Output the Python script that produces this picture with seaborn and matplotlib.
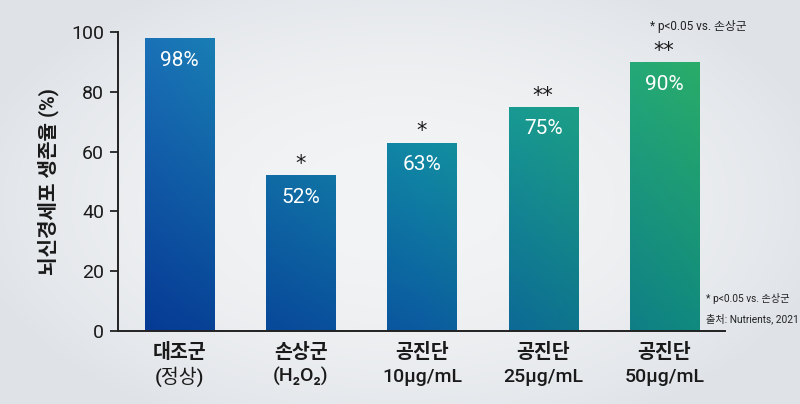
import numpy as np
import pandas as pd
import matplotlib
matplotlib.use("Agg")
import matplotlib.pyplot as plt
import seaborn as sns
from matplotlib.colors import to_rgb

group_names = ["대조군", "손상군", "공진단", "공진단", "공진단"]
group_details = ["(정상)", "(H₂O₂)", "10μg/mL", "25μg/mL", "50μg/mL"]
values = [98, 52, 63, 75, 90]
value_labels = ["98%", "52%", "63%", "75%", "90%"]
sig_marks = ["", "*", "*", "**", "**"]
yticks = [0, 20, 40, 60, 80, 100]
ylabel = "뇌신경세포 생존율 (%)"
note_sig = "* p<0.05 vs. 손상군"
note_src = "출처: Nutrients, 2021"

sns.set_theme(style="white")
plt.rcParams['font.family'] = ['Roboto', 'Noto Sans CJK KR', 'DejaVu Sans']

fig = plt.figure(figsize=(8, 4.04), dpi=100)
fig.patch.set_facecolor("#eceef1")

# soft vignette background
bg = fig.add_axes([0, 0, 1, 1], zorder=-10)
bx = np.linspace(-1, 1, 400)[None, :]
by = np.linspace(-1, 1, 202)[:, None]
r = np.clip(np.sqrt((bx * 0.9) ** 2 + (by * 0.8) ** 2), 0, 1.2)
c_in, c_out = np.array(to_rgb("#f3f4f5")), np.array(to_rgb("#dfe3e8"))
w = np.clip(r ** 2, 0, 1)[..., None]
bg.imshow((1 - w) * c_in + w * c_out, aspect="auto", extent=[0, 1, 0, 1],
          interpolation="bilinear")
bg.set_axis_off()

ax = fig.add_axes([0.1475, 0.1807, 0.906 - 0.1475, 0.921 - 0.1807])
ax.set_facecolor("none")

df = pd.DataFrame({"group": group_names, "detail": group_details, "value": values})
df["key"] = df["group"] + "\n" + df["detail"]
sns.barplot(data=df, x="key", y="value", ax=ax, width=0.57, color="#1565b0",
            saturation=1, linewidth=0, zorder=2)

# 2D gradient: control colours at left / middle / right columns, bottom & top
xs = np.array([0.0, 0.5, 1.0])
bottoms = np.array([to_rgb(c) for c in ["#063a94", "#0b5aa0", "#108a7e"]])
tops = np.array([to_rgb(c) for c in ["#1b72b8", "#14a8a6", "#2db066"]])
nx, ny = 200, 200
u = np.linspace(0, 1, nx)
v = np.linspace(1, 0, ny)[:, None, None]
bot_row = np.stack([np.interp(u, xs, bottoms[:, k]) for k in range(3)], axis=-1)[None]
top_row = np.stack([np.interp(u, xs, tops[:, k]) for k in range(3)], axis=-1)[None]
grad = np.clip((1 - v) * bot_row + v * top_row, 0, 1)

for p in ax.patches:
    im = ax.imshow(grad, extent=[-0.3, 4.3, 0, 100], aspect="auto", zorder=2,
                   interpolation="bilinear")
    im.set_clip_path(p)
    p.set_facecolor("none")

ax.set_xlim(-0.51, 4.5)
ax.set_ylim(0, 100)
ax.set_yticks(yticks)
ax.tick_params(axis="y", labelsize=14, length=6, width=1.3, color="#222222",
               direction="out", left=True, pad=4, labelcolor="#1a1a1a")
ax.set_xticks(range(len(group_names)))
ax.set_xticklabels(group_names)
ax.tick_params(axis="x", labelsize=14, length=0, pad=9, labelcolor="#1a1a1a")
for lab in ax.get_xticklabels():
    lab.set_fontweight("bold")
for i, det in enumerate(group_details):
    ax.annotate(det, (i, 0), xycoords=("data", "axes fraction"), xytext=(0, -33),
                textcoords="offset points", ha="center", va="center",
                fontsize=14, color="#1a1a1a", fontweight="medium")
ax.set_xlabel("")
ax.set_ylabel(ylabel, fontsize=14.5, fontweight="bold", labelpad=9, color="#1a1a1a")
for s in ["top", "right"]:
    ax.spines[s].set_visible(False)
for s in ["left", "bottom"]:
    ax.spines[s].set_color("#222222")
    ax.spines[s].set_linewidth(1.4)

for i, (val, lab, sig) in enumerate(zip(values, value_labels, sig_marks)):
    ax.annotate(lab, (i, val), xytext=(0, -16), textcoords="offset points",
                ha="center", va="center", color="white", fontsize=15, zorder=5)
    if sig:
        ax.annotate(sig, (i, val), xytext=(0, 8), textcoords="offset points",
                    ha="center", va="center", color="#1a1a1a", fontsize=15,
                    family="DejaVu Sans", zorder=5)

fig.text(0.8125, 0.935, note_sig, fontsize=8.5, color="#222222", ha="left", va="center")
fig.text(0.882, 0.262, note_sig, fontsize=7.3, color="#222222", ha="left", va="center")
fig.text(0.882, 0.212, note_src, fontsize=7.3, color="#222222", ha="left", va="center")

fig.savefig("out.png", dpi=100, facecolor=fig.get_facecolor())
